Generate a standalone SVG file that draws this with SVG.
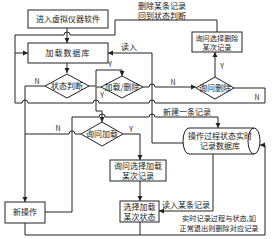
<svg xmlns="http://www.w3.org/2000/svg" width="273" height="239" viewBox="0 0 273 239">
<defs>
<marker id="ah" markerWidth="6" markerHeight="6" refX="5" refY="3" orient="auto" markerUnits="userSpaceOnUse">
<path d="M0,0.5 L5,3 L0,5.5 Z" fill="#222"/>
</marker>
<style>
.n{fill:#fff;stroke:#222;stroke-width:1}
.c{fill:none;stroke:#222;stroke-width:1}
.a{marker-end:url(#ah)}
text{font-family:"Noto Sans CJK SC","Noto Sans",sans-serif;font-size:8px;fill:#222;text-anchor:middle}
.l{font-size:7px}
.s{font-size:7.2px}
</style>
</defs>
<rect width="273" height="239" fill="#fff"/>
<g id="connectors">
<path class="c a" d="M67,28 V43"/>
<path class="c a" d="M217,32 V20 H115 V35 H70 A3,3 0 0 0 64,35 H15 V53 H28"/>
<path class="c" d="M234,88 H265 V103 H155 A3,3 0 0 0 149,103 H99 A3,3 0 0 0 93,103 H28 A3,3 0 0 0 22,103 H15 V53"/>
<path class="c a" d="M183,143 H152 V53 H108"/>
<path class="c a" d="M67,63 V73"/>
<path class="c a" d="M45,86 H25 V202"/>
<path class="c a" d="M89,86 H96 V70 H122 V76"/>
<path class="c a" d="M143,87 H149 A3,3 0 0 1 155,87 H196"/>
<path class="c a" d="M101,87 H96 V111 H102 V122"/>
<path class="c a" d="M215,77 V52"/>
<path class="c" d="M81,134 H75 A3,3 0 0 0 69,134 H25"/>
<path class="c a" d="M123,134 H140 V160"/>
<path class="c a" d="M140,181 V201"/>
<path class="c a" d="M45,212 H72 V117 H99 A3,3 0 0 1 105,117 H149 A3,3 0 0 1 155,117 H218 V128"/>
<path class="c a" d="M213,154 V211 H159"/>
<path class="c a" d="M25,223 V235 H265 V145 H260"/>
<path class="c" d="M140,222 V235"/>
</g>
<g id="labels">
<text x="162" y="9">删除某条记录</text>
<text x="162" y="19">回到状态判断</text>
<text x="129" y="50">读入</text>
<text class="l" x="110" y="67">Y</text>
<text class="l" x="37" y="84">N</text>
<text class="l" x="102" y="98">Y</text>
<text class="l" x="173" y="85">N</text>
<text class="l" x="222" y="69">Y</text>
<text class="l" x="257" y="100">N</text>
<text class="l" x="58" y="131">N</text>
<text class="l" x="131" y="132">Y</text>
<text x="187" y="115">新建一条记录</text>
<text x="186" y="208">读入某条记录</text>
<text class="s" x="219" y="221">实时记录过程与状态,如</text>
<text class="s" x="219" y="231">正常退出则删除对应记录</text>
</g>
<g id="start">
<rect class="n" x="28" y="10" width="80" height="18"/>
<text x="68" y="22">进入虚拟仪器软件</text>
</g>
<g id="loaddb">
<rect class="n" x="28" y="43" width="80" height="20"/>
<text x="68" y="56" style="letter-spacing:1px">加载数据库</text>
</g>
<g id="state">
<path class="n" d="M67,74 L89,86 L67,98 L45,86 Z"/>
<text x="67" y="89">状态判断</text>
</g>
<g id="loaddel">
<path class="n" d="M122,76 L143,87 L122,98 L101,87 Z"/>
<text x="122" y="90">加载/删除</text>
</g>
<g id="askdel">
<path class="n" d="M215,77 L234,88 L215,99 L196,88 Z"/>
<text x="215" y="91">询问删除</text>
</g>
<g id="selectdel">
<rect class="n" x="192" y="32" width="50" height="20"/>
<text class="s" x="217" y="41">询问选择删除</text>
<text class="s" x="217" y="50">某次记录</text>
</g>
<g id="askload">
<path class="n" d="M102,122 L123,134 L102,146 L81,134 Z"/>
<text x="102" y="137">询问加载</text>
</g>
<g id="selectload">
<rect class="n" x="110" y="160" width="56" height="21"/>
<text x="138" y="169">询问选择加载</text>
<text x="138" y="179">某次记录</text>
</g>
<g id="loadstate">
<rect class="n" x="120" y="201" width="39" height="21"/>
<text x="139.5" y="210">选择加载</text>
<text x="139.5" y="220">某次状态</text>
</g>
<g id="newop">
<rect class="n" x="5" y="202" width="40" height="21"/>
<text x="25" y="215">新操作</text>
</g>
<g id="recorddb">
<path class="n" d="M189,128 H254 A6,13 0 0 1 254,154 H189 A6,13 0 0 1 189,128 Z"/>
<path class="c" d="M254,128 A6,13 0 0 0 254,154"/>
<text x="220" y="139">操作过程状态实时</text>
<text x="220" y="149">记录数据库</text>
</g>
</svg>
